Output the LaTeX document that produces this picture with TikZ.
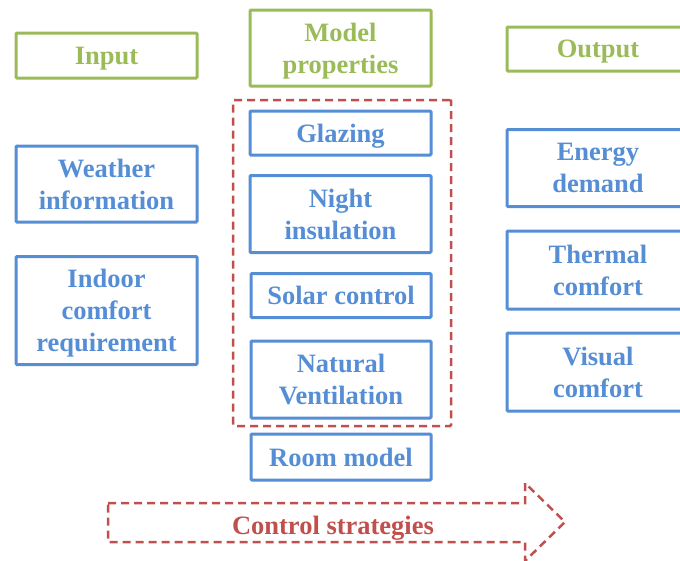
\documentclass[tikz,border=0pt]{standalone}
\usepackage{fontspec}
\setmainfont{Liberation Serif}
\definecolor{boxblue}{HTML}{558ED5}
\definecolor{headgreen}{HTML}{9BBB59}
\definecolor{ctrlred}{HTML}{C0504D}
\begin{document}
\begin{tikzpicture}[x=1pt,y=-1pt,
  lbl/.style={font=\fontsize{26.5}{32}\selectfont\bfseries, align=center, inner sep=0pt, text depth=0pt},
  bluebox/.style={lbl, draw=boxblue, text=boxblue, line width=3pt, rounded corners=1pt},
  greenbox/.style={lbl, draw=headgreen, text=headgreen, line width=3pt, rounded corners=1pt},
  groupframe/.style={draw=ctrlred, line width=2.5pt, dash pattern=on 8pt off 5pt, rounded corners=1pt},
]
\clip (0,0) rectangle (680,560);
\useasboundingbox (0,0) rectangle (680,560);

% column headers
\node[greenbox, minimum width=181, minimum height=45] (input) at (106.5,55.5) {Input};
\node[greenbox, minimum width=181, minimum height=76] (model) at (340.5,48) {Model\\properties};
\node[greenbox, minimum width=182, minimum height=44] (output) at (598,49) {Output};

% inputs
\node[bluebox, minimum width=181, minimum height=76] (weather) at (106.5,184) {Weather\\information};
\node[bluebox, minimum width=181, minimum height=108] (indoor) at (106.5,310.5) {Indoor\\comfort\\requirement};

% model properties
\node[bluebox, minimum width=181, minimum height=44] (glazing) at (340.5,133) {Glazing};
\node[bluebox, minimum width=181, minimum height=77] (night) at (340.5,214) {Night\\insulation};
\node[bluebox, minimum width=180, minimum height=44] (solar) at (341,295.5) {Solar control};
\node[bluebox, minimum width=180, minimum height=77] (vent) at (341,379.5) {Natural\\Ventilation};
\node[bluebox, minimum width=180, minimum height=46] (room) at (341,457) {Room model};

% controllable properties
\node[groupframe, minimum width=218, minimum height=326, inner sep=0pt] (ctrlgroup) at (342,263) {};

% outputs
\node[bluebox, minimum width=182, minimum height=77] (energy) at (598,168) {Energy\\demand};
\node[bluebox, minimum width=182, minimum height=78] (thermal) at (598,270) {Thermal\\comfort};
\node[bluebox, minimum width=182, minimum height=78] (visual) at (598,372) {Visual\\comfort};

% control strategies arrow
\node[lbl, text=ctrlred] (ctrl) at (333,525) {Control strategies};
\draw[ctrlred, line width=2.5pt, dash pattern=on 8pt off 5pt, line join=miter]
  (108,503) -- (525,503) -- (525,483) -- (565,522) -- (525,561) -- (525,542) -- (108,542) -- cycle;
\end{tikzpicture}
\end{document}
